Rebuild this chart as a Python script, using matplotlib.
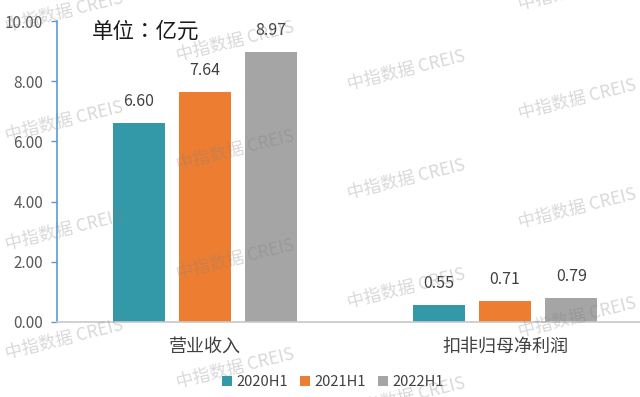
import matplotlib
matplotlib.use("Agg")
import matplotlib.pyplot as plt
import numpy as np

plt.rcParams['font.family'] = ['Noto Sans CJK SC', 'DejaVu Sans']

categories = ["营业收入", "扣非归母净利润"]
series_names = ["2020H1", "2021H1", "2022H1"]
values_2020 = [6.60, 0.55]
values_2021 = [7.64, 0.71]
values_2022 = [8.97, 0.79]
yticks = [0, 2, 4, 6, 8, 10]
unit_text = "单位：亿元"
watermark = "中指数据 CREIS"

colors = ["#3399A8", "#ED7D31", "#A5A5A5"]
series = [values_2020, values_2021, values_2022]

fig = plt.figure(figsize=(6.4, 3.97), dpi=100)
ax = fig.add_axes([57/640, 1-322/397, 583/640, 301/397])

x = np.arange(len(categories))
offsets = [-0.221, 0.0, 0.221]
width = 0.173
for vals, off, col, name in zip(series, offsets, colors, series_names):
    bars = ax.bar(x + off, vals, width, color=col, label=name, zorder=2)
    for b, v in zip(bars, vals):
        ax.annotate(f"{v:.2f}", (b.get_x() + b.get_width()/2, v),
                    xytext=(0, 15.5), textcoords="offset points",
                    ha="center", va="center", fontsize=11.5, color="#404040")

ax.set_xlim(-0.493, 1.45)
ax.set_ylim(0, 10)
ax.set_yticks(yticks)
ax.set_yticklabels([f"{t:.2f}" for t in yticks])
ax.set_xticks(x)
ax.set_xticklabels(categories)
ax.tick_params(axis="x", length=0, pad=11, labelsize=13, labelcolor="#404040")
ax.tick_params(axis="y", length=4, width=1, color="#5B9BD5", pad=6,
               labelsize=11, labelcolor="#595959", direction="out")
for s in ["top", "right"]:
    ax.spines[s].set_visible(False)
ax.spines["left"].set_color("#5B9BD5")
ax.spines["left"].set_linewidth(1.2)
ax.spines["bottom"].set_color("#C8C8C8")
ax.spines["bottom"].set_linewidth(1.2)

fig.text(92/640, 1-32/397, unit_text, ha="left", va="center", fontsize=15.5,
         color="#1a1a1a", family=["Noto Sans CJK TC", "DejaVu Sans"])

handles, labels = ax.get_legend_handles_labels()
fig.legend(handles, labels, loc="center", bbox_to_anchor=(333/640, 1-382/397),
           ncol=3, frameon=False, fontsize=10.5, handlelength=0.7, handleheight=0.7,
           handletextpad=0.3, columnspacing=0.8, labelcolor="#404040")

for i in range(4):
    for j in range(-1, 5):
        cx = 64 + 171*i
        cy = 12 + 29*i + 109*j
        if -20 < cy < 420:
            fig.text(cx/640, 1-cy/397, watermark, rotation=14, ha="center", va="center",
                     fontsize=12.5, color="gray", alpha=0.3, zorder=10,
                     rotation_mode="anchor")

fig.savefig("out.png", dpi=100)
